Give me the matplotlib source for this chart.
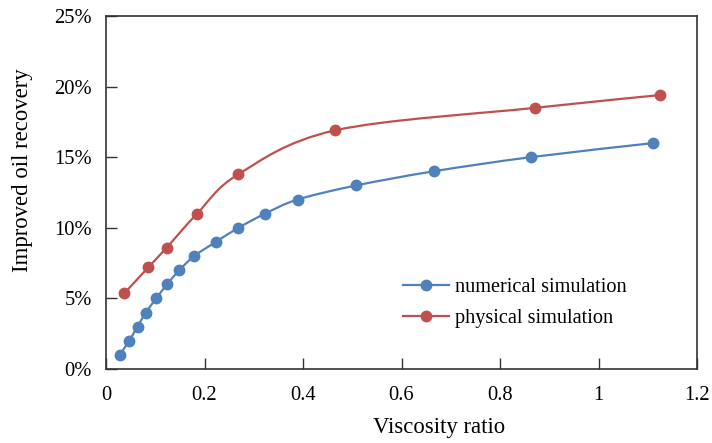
import numpy as np
import matplotlib
matplotlib.use('Agg')
import matplotlib.pyplot as plt
from matplotlib.path import Path
from matplotlib.patches import PathPatch
from matplotlib.ticker import FuncFormatter

# numerical simulation
num_x = [0.028, 0.047, 0.064, 0.081, 0.102, 0.124, 0.149, 0.179, 0.223,
         0.269, 0.323, 0.389, 0.508, 0.665, 0.862, 1.111]
num_y = [0.01, 0.02, 0.03, 0.04, 0.05, 0.06, 0.07, 0.08, 0.09,
         0.10, 0.11, 0.12, 0.13, 0.14, 0.15, 0.16]

# physical simulation
phy_x = [0.037, 0.086, 0.123, 0.185, 0.269, 0.465, 0.872, 1.125]
phy_y = [0.0536, 0.072, 0.0859, 0.110, 0.138, 0.169, 0.185, 0.194]

blue = '#4F81BD'
red = '#C0504D'


def smooth_path(xs, ys, t=1/6):
    # excel-like smoothed line: bezier segments through the points
    pts = np.column_stack([xs, ys])
    verts = [pts[0]]
    codes = [Path.MOVETO]
    n = len(pts)
    for i in range(n - 1):
        p0 = pts[i - 1] if i > 0 else pts[i]
        p1 = pts[i]
        p2 = pts[i + 1]
        p3 = pts[i + 2] if i + 2 < n else pts[i + 1]
        c1 = p1 + (p2 - p0) * t
        c2 = p2 - (p3 - p1) * t
        verts += [c1, c2, p2]
        codes += [Path.CURVE4] * 3
    return Path(verts, codes)


plt.rcParams['font.family'] = ['Liberation Serif', 'DejaVu Serif']

fig = plt.figure(figsize=(7.12, 4.43), dpi=100)
ax = fig.add_axes([106 / 712, 1 - 369 / 443, 591 / 712, 353 / 443])

for xs, ys, c in [(num_x, num_y, blue), (phy_x, phy_y, red)]:
    ax.add_patch(PathPatch(smooth_path(xs, ys), fill=False, edgecolor=c, lw=1.6))

ax.plot(num_x, num_y, ls='none', marker='o', ms=7.5, color=blue)
ax.plot(phy_x, phy_y, ls='none', marker='o', ms=7.5, color=red)

# legend handles
h1, = ax.plot([], [], '-o', color=blue, ms=7.5, lw=1.6, label='numerical simulation')
h2, = ax.plot([], [], '-o', color=red, ms=7.5, lw=1.6, label='physical simulation')
ax.legend(handles=[h1, h2], loc='lower left', bbox_to_anchor=(0.5025, 0.116),
          frameon=False, fontsize=14.6, handlelength=2.27, handletextpad=0.3,
          labelspacing=0.6, borderaxespad=0, borderpad=0)

ax.set_xlim(0, 1.2)
ax.set_ylim(0, 0.25)
ax.set_xticks(np.arange(0, 1.21, 0.2))
ax.set_yticks(np.arange(0, 0.251, 0.05))
ax.xaxis.set_major_formatter(FuncFormatter(lambda v, p: '0' if v == 0 else ('1' if abs(v - 1) < 1e-9 else f'{v:g}')))
ax.yaxis.set_major_formatter(FuncFormatter(lambda v, p: f'{v * 100:.0f}%'))
ax.tick_params(direction='in', length=8, width=1, labelsize=14.8, color='#333333')
ax.tick_params(axis='x', pad=12)
ax.tick_params(axis='y', pad=10)
for s in ax.spines.values():
    s.set_color('#333333')
    s.set_linewidth(1.2)

ax.set_xlabel('Viscosity ratio', fontsize=16.4)
ax.set_ylabel('Improved oil recovery', fontsize=16.4)
ax.xaxis.set_label_coords(0.563, -0.135)
ax.yaxis.set_label_coords(-0.124, 0.564)

fig.savefig('out.png', dpi=100)
